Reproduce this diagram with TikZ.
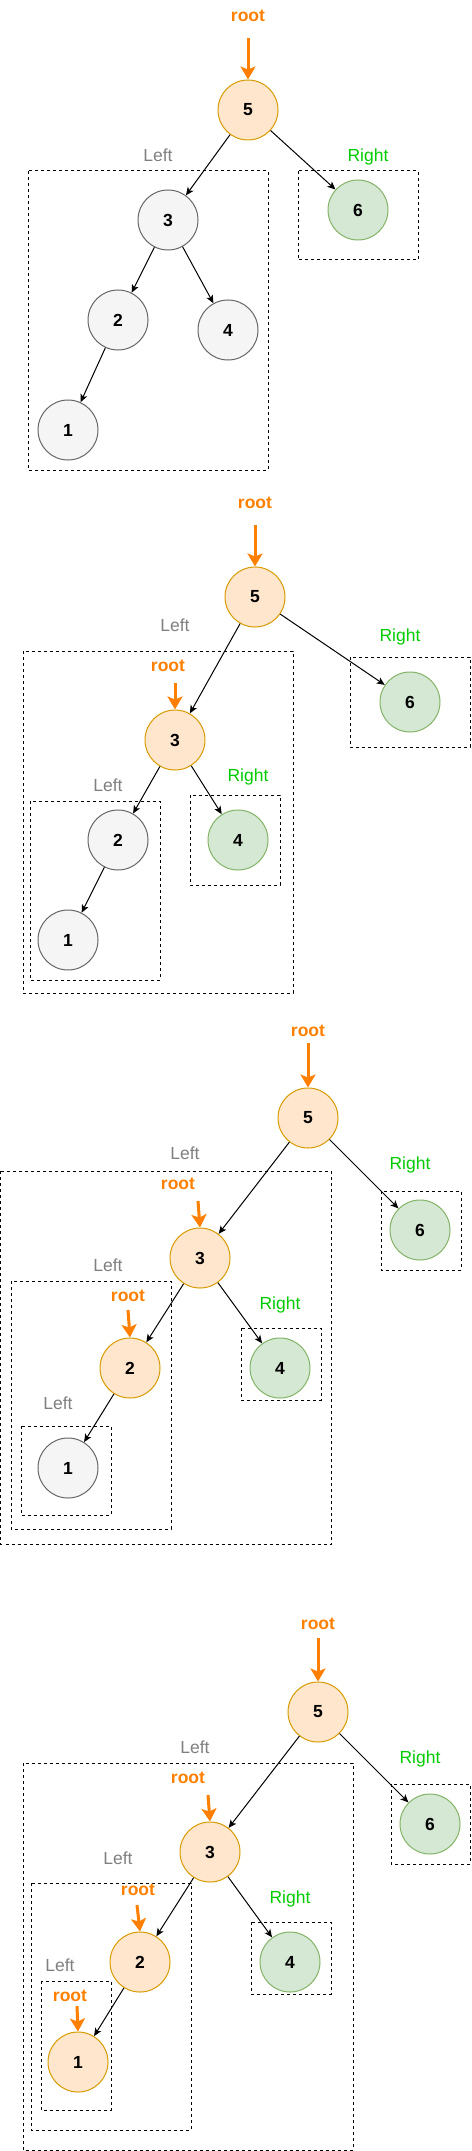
\documentclass[tikz,border=0pt]{standalone}
\usepackage{fontspec}
\setmainfont{Liberation Sans}
\usepackage{xcolor}
\usetikzlibrary{arrows.meta,positioning}

\definecolor{rootorange}{HTML}{FF8000}
\definecolor{orangefill}{HTML}{FFE6CC}
\definecolor{orangeline}{HTML}{D79B00}
\definecolor{grayfill}{HTML}{F5F5F5}
\definecolor{grayline}{HTML}{666666}
\definecolor{greenfill}{HTML}{D5E8D4}
\definecolor{greenline}{HTML}{82B366}
\definecolor{lefttext}{HTML}{808080}
\definecolor{righttext}{HTML}{00CC00}

\begin{document}
\begin{tikzpicture}[x=1pt,y=-1pt,
    tree node/.style={circle,draw,line width=1pt,minimum size=60pt,inner sep=0pt,font=\bfseries\fontsize{17.5}{20}\selectfont},
    root node/.style={tree node,fill=orangefill,draw=orangeline},
    gray node/.style={tree node,fill=grayfill,draw=grayline},
    green node/.style={tree node,fill=greenfill,draw=greenline},
    label text/.style={inner sep=0pt,text height=12.5pt,text depth=0pt,font=\fontsize{17.5}{20}\selectfont},
    root label/.style={label text,text=rootorange,font=\bfseries\fontsize{17.5}{20}\selectfont},
    left label/.style={label text,text=lefttext},
    right label/.style={label text,text=righttext},
    sub box/.style={draw=black,line width=1pt,dash pattern=on 3pt off 3pt},
    root arrow/.style={draw=rootorange,line width=3pt,-{Stealth[length=13pt,width=15pt,inset=3pt]}},
    child edge/.style={draw=black,line width=1pt,-{Stealth[length=8pt,width=7pt,inset=2pt]}}]

\useasboundingbox (0,0) rectangle (471,2151);

% step 1
\node[root label] (RootA) at (248,15) {root};
\coordinate (RootTailA) at (248,38);
\node[root node] (FiveA) at (248,110) {5};
\node[left label] (LeftA) at (158,155) {Left};
\draw[sub box] (28,171) rectangle (268,470);
\node[right label] (RightA) at (368,155) {Right};
\draw[sub box] (298,171) rectangle (418,260);
\node[green node] (SixA) at (358,210) {6};
\node[gray node] (ThreeA) at (168,220) {3};
\node[gray node] (TwoA) at (118,320) {2};
\node[gray node] (FourA) at (228,330) {4};
\node[gray node] (OneA) at (68,430) {1};

% step 2
\node[root label] (RootB) at (255,502) {root};
\coordinate (RootTailB) at (255,525);
\node[root node] (FiveB) at (255,597) {5};
\node[left label] (LeftB) at (175,625) {Left};
\draw[sub box] (23,651) rectangle (293,993);
\node[right label] (RightB) at (400,635) {Right};
\draw[sub box] (350,657) rectangle (470,747);
\node[green node] (SixB) at (410,702) {6};
\node[root label] (RootTwoB) at (168,665) {root};
\coordinate (RootTailTwoB) at (175,683);
\node[root node] (ThreeB) at (175,740) {3};
\node[left label] (LeftTwoB) at (108,785) {Left};
\draw[sub box] (30,801) rectangle (160,980);
\node[right label] (RightTwoB) at (248,775) {Right};
\draw[sub box] (190,795) rectangle (280,885);
\node[green node] (FourB) at (238,840) {4};
\node[gray node] (TwoB) at (118,840) {2};
\node[gray node] (OneB) at (68,940) {1};

% step 3
\node[root label] (RootC) at (308,1030) {root};
\coordinate (RootTailC) at (308,1043);
\node[root node] (FiveC) at (308,1118) {5};
\node[left label] (LeftC) at (185,1153) {Left};
\draw[sub box] (0.5,1171) rectangle (331,1544);
\node[right label] (RightC) at (410,1163) {Right};
\draw[sub box] (381,1191) rectangle (461,1270);
\node[green node] (SixC) at (420,1230) {6};
\node[root label] (RootTwoC) at (178,1183) {root};
\coordinate (RootTailTwoC) at (198,1201);
\node[root node] (ThreeC) at (200,1258) {3};
\node[left label] (LeftTwoC) at (108,1265) {Left};
\draw[sub box] (11,1281) rectangle (171,1529);
\node[right label] (RightTwoC) at (280,1303) {Right};
\draw[sub box] (241,1328) rectangle (321,1400);
\node[green node] (FourC) at (280,1368) {4};
\node[root label] (RootThreeC) at (128,1295) {root};
\coordinate (RootTailThreeC) at (128,1310);
\node[root node] (TwoC) at (130,1368) {2};
\node[left label] (LeftThreeC) at (58,1403) {Left};
\draw[sub box] (21,1426) rectangle (111,1515);
\node[gray node] (OneC) at (68,1468) {1};

% step 4
\node[root label] (RootD) at (318,1623) {root};
\coordinate (RootTailD) at (318,1638);
\node[root node] (FiveD) at (318,1712) {5};
\node[left label] (LeftD) at (195,1747) {Left};
\draw[sub box] (23,1763) rectangle (353,2150);
\node[right label] (RightD) at (420,1757) {Right};
\draw[sub box] (391,1784) rectangle (470,1864);
\node[green node] (SixD) at (430,1824) {6};
\node[root label] (RootTwoD) at (188,1777) {root};
\coordinate (RootTailTwoD) at (208,1795);
\node[root node] (ThreeD) at (210,1852) {3};
\node[left label] (LeftTwoD) at (118,1858) {Left};
\draw[sub box] (31,1883) rectangle (191,2130);
\node[right label] (RightTwoD) at (290,1897) {Right};
\draw[sub box] (251,1922) rectangle (331,1994);
\node[green node] (FourD) at (290,1962) {4};
\node[root label] (RootThreeD) at (138,1889) {root};
\coordinate (RootTailThreeD) at (137,1905);
\node[root node] (TwoD) at (140,1962) {2};
\node[left label] (LeftThreeD) at (60,1965) {Left};
\draw[sub box] (41,1981) rectangle (111,2110);
\node[root label] (RootFourD) at (70,1995) {root};
\coordinate (RootTailFourD) at (77,2006);
\node[root node] (OneD) at (78,2062) {1};

% tree edges, same in every step
\foreach \p in {A,B,C,D}
   {\draw[child edge] (Five\p) -- (Three\p);
    \draw[child edge] (Five\p) -- (Six\p);
    \draw[child edge] (Three\p) -- (Two\p);
    \draw[child edge] (Three\p) -- (Four\p);
    \draw[child edge] (Two\p) -- (One\p);}

% root pointers
\foreach \t/\n in {RootTailA/FiveA,RootTailB/FiveB,RootTailTwoB/ThreeB,
                   RootTailC/FiveC,RootTailTwoC/ThreeC,RootTailThreeC/TwoC,
                   RootTailD/FiveD,RootTailTwoD/ThreeD,RootTailThreeD/TwoD,RootTailFourD/OneD}
   \draw[root arrow] (\t) -- (\n.north);

\end{tikzpicture}
\end{document}
